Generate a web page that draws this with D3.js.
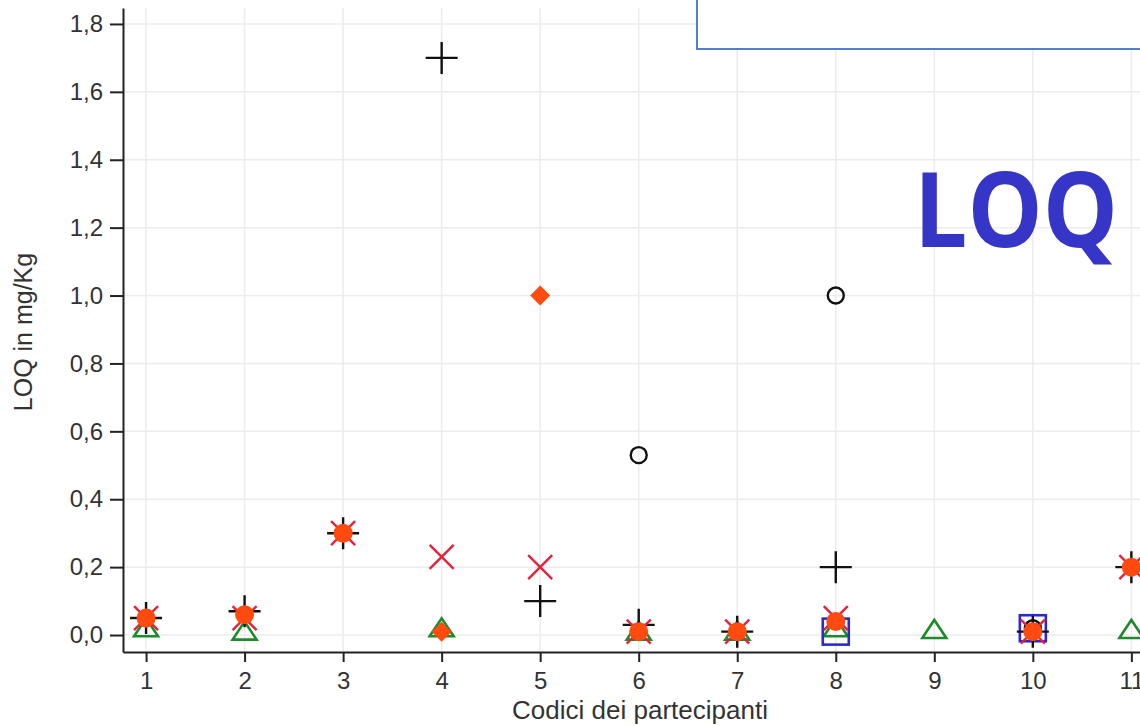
<!DOCTYPE html>
<html><head><meta charset="utf-8">
<script src="https://cdn.jsdelivr.net/npm/d3@7"></script>
<style>body{margin:0;background:#fff}svg{display:block}</style>
</head><body>
<svg id="c" width="1140" height="726"></svg>
<script>
const participants = [1,2,3,4,5,6,7,8,9,10,11];
const xTicks = [1,2,3,4,5,6,7,8,9,10,11];
const yTicks = [0,0.2,0.4,0.6,0.8,1.0,1.2,1.4,1.6,1.8];
// series values per participant (null = no point)
const plusVals     = [0.05,0.07,0.30,1.70,0.10,0.03,0.01,0.20,null,0.01,0.20];
const circleVals   = [null,null,null,null,null,0.53,null,1.00,null,0.02,null];
const crossVals    = [0.05,0.05,0.30,0.23,0.20,0.01,0.01,0.05,null,0.01,0.20];
const diamondVals  = [null,null,null,0.01,1.00,null,null,null,null,null,null];
const triangleVals = [0.02,0.01,null,0.02,null,0.01,0.01,0.02,0.015,null,0.015];
const squareVals   = [null,null,null,null,null,null,null,0.01,null,0.02,null];
const dotVals      = [0.05,0.06,0.30,null,null,0.01,0.01,0.04,null,0.01,0.20];

const svg = d3.select('#c');
const x = d3.scaleLinear().domain([0.766,11.25]).range([123,1156]);
const y = d3.scaleLinear().domain([-0.05,1.847]).range([652,8]);
const fmt = v => d3.format('.1f')(v).replace('.',',');
const FONT = '"Liberation Sans", Arial, sans-serif';

// grid
svg.append('g').selectAll('line').data(xTicks).join('line')
  .attr('x1',d=>x(d)).attr('x2',d=>x(d)).attr('y1',y(-0.05)).attr('y2',8)
  .attr('stroke','#ececec').attr('stroke-width',1.5);
svg.append('g').selectAll('line').data(yTicks).join('line')
  .attr('x1',123).attr('x2',1140).attr('y1',d=>y(d)).attr('y2',d=>y(d))
  .attr('stroke','#ececec').attr('stroke-width',1.5);

// axes
const ax = svg.append('g').attr('transform','translate(0,652)')
  .call(d3.axisBottom(x).tickValues(xTicks).tickSize(10).tickSizeOuter(0).tickPadding(10).tickFormat(d3.format('d')));
const ay = svg.append('g').attr('transform','translate(123,0)')
  .call(d3.axisLeft(y).tickValues(yTicks).tickSize(13).tickSizeOuter(0).tickPadding(7).tickFormat(fmt));
[ax,ay].forEach(g=>{
  g.select('.domain').attr('stroke','#222').attr('stroke-width',2);
  g.selectAll('.tick line').attr('stroke','#222').attr('stroke-width',2);
  g.selectAll('.tick text').attr('fill','#333').style('font-family',FONT).style('font-size','24px');
});

svg.append('text').attr('x',640).attr('y',719).attr('text-anchor','middle')
  .style('font-family',FONT).style('font-size','26px').attr('fill','#333')
  .text('Codici dei partecipanti');
svg.append('text').attr('transform','translate(32,332) rotate(-90)').attr('text-anchor','middle')
  .style('font-family',FONT).style('font-size','25px').attr('fill','#333')
  .text('LOQ in mg/Kg');

// legend box & LOQ label
svg.append('rect').attr('x',697).attr('y',-3).attr('width',470).attr('height',52)
  .attr('fill','#fff').attr('stroke','#4472C4').attr('stroke-width',1.8);
svg.append('text').attr('x',1016).attr('y',247).attr('text-anchor','middle')
  .style('font-family','"Open Sans", sans-serif').style('font-weight','bold').style('font-size','104px')
  .attr('fill','#3535C8').attr('textLength',204).attr('lengthAdjust','spacingAndGlyphs').text('LOQ');

const pts = vals => participants.map((p,i)=>({p,v:vals[i]})).filter(d=>d.v!=null);
const g = svg.append('g');

// triangles
g.selectAll('.tri').data(pts(triangleVals)).join('path')
  .attr('d',d=>{const cx=x(d.p),cy=y(d.v);return `M${cx-12},${cy+8}L${cx+12},${cy+8}L${cx},${cy-10}Z`;})
  .attr('fill','none').attr('stroke','#1E8A2A').attr('stroke-width',2.6);
// squares
g.selectAll('.sq').data(pts(squareVals)).join('rect')
  .attr('x',d=>x(d.p)-13).attr('y',d=>y(d.v)-13).attr('width',26).attr('height',26)
  .attr('fill','none').attr('stroke','#2A2AD0').attr('stroke-width',2.6);
// circles
g.selectAll('.ci').data(pts(circleVals)).join('circle')
  .attr('cx',d=>x(d.p)).attr('cy',d=>y(d.v)).attr('r',8)
  .attr('fill','none').attr('stroke','#111').attr('stroke-width',2.4);
// diamonds
g.selectAll('.di').data(pts(diamondVals)).join('path')
  .attr('d',d=>{const cx=x(d.p),cy=y(d.v);return `M${cx},${cy-10}L${cx+10},${cy}L${cx},${cy+10}L${cx-10},${cy}Z`;})
  .attr('fill','#FF4A10');
// plus
g.selectAll('.pl').data(pts(plusVals)).join('path')
  .attr('d',d=>{const cx=x(d.p),cy=y(d.v);return `M${cx-16},${cy}L${cx+16},${cy}M${cx},${cy-16}L${cx},${cy+16}`;})
  .attr('stroke','#111').attr('stroke-width',2.4).attr('fill','none');
// crosses
g.selectAll('.cr').data(pts(crossVals)).join('path')
  .attr('d',d=>{const cx=x(d.p),cy=y(d.v),s=12;return `M${cx-s},${cy-s}L${cx+s},${cy+s}M${cx-s},${cy+s}L${cx+s},${cy-s}`;})
  .attr('stroke','#E8203C').attr('stroke-width',2.4).attr('fill','none');
// filled dots
g.selectAll('.dt').data(pts(dotVals)).join('circle')
  .attr('cx',d=>x(d.p)).attr('cy',d=>y(d.v)).attr('r',9.5)
  .attr('fill','#FF4A10');
</script>
</body></html>
